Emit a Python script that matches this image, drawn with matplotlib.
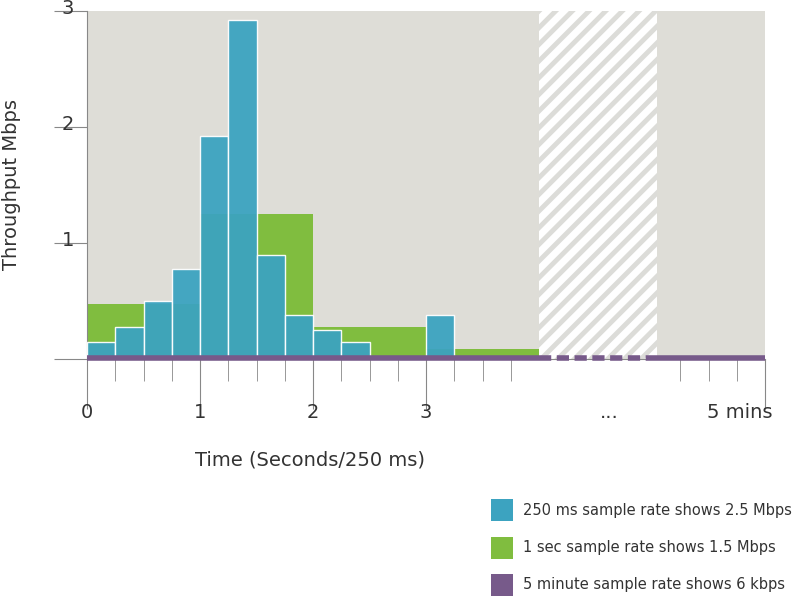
import matplotlib.pyplot as plt
from matplotlib.patches import Rectangle

plt.rcParams["hatch.linewidth"] = 3.5

# 250 ms samples (width 0.25 s)
blue_x = [0, 0.25, 0.5, 0.75, 1.0, 1.25, 1.5, 1.75, 2.0, 2.25, 3.0]
blue_h = [0.15, 0.28, 0.5, 0.78, 1.92, 2.92, 0.9, 0.38, 0.25, 0.15, 0.38]
# 1 sec samples (drawn as half-second steps)
green_x = [0, 0.5, 1.0, 1.5, 2.0, 2.5, 3.0, 3.5]
green_h = [0.47, 0.47, 1.25, 1.25, 0.28, 0.28, 0.09, 0.09]
purple_level = 0.006

blue = "#3ca3c0"
green = "#80bd3f"
purple = "#775a8a"
bg = "#deddd7"

fig = plt.figure(figsize=(8, 5.97), dpi=100)
ax = fig.add_axes([87/800, 1-359/597, 678/800, 348/597])
ax.set_xlim(0, 6)
ax.set_ylim(0, 3)
ax.set_facecolor(bg)

# hatched gap
ax.add_patch(Rectangle((4.0, 0), 1.04, 3, facecolor="white", edgecolor="#dcdcd8",
                       hatch="//", linewidth=0, zorder=1))

ax.bar(green_x, green_h, width=0.5, align="edge", color=green, edgecolor="none", zorder=2)
ax.bar(blue_x, blue_h, width=0.25, align="edge", color=blue, alpha=0.95,
       edgecolor="white", linewidth=1, zorder=3)

# 5 minute sample line
ax.plot([0, 4.0], [purple_level]*2, color=purple, lw=4, zorder=4, clip_on=False, solid_capstyle="butt")
ax.plot([4.0, 5.04], [purple_level]*2, color=purple, lw=4, ls=(0, (2.2, 1)), zorder=4, clip_on=False)
ax.plot([5.04, 6.0], [purple_level]*2, color=purple, lw=4, zorder=4, clip_on=False, solid_capstyle="butt")

for s in ["top", "right"]:
    ax.spines[s].set_visible(False)
ax.spines["left"].set_color("#888888")
ax.spines["bottom"].set_color("#888888")

major = [0, 1, 2, 3, 6]
minor = [0.25, 0.5, 0.75, 1.25, 1.5, 1.75, 2.25, 2.5, 2.75, 3.25, 3.5, 3.75, 5.25, 5.5, 5.75]
ax.set_xticks(major)
ax.set_xticks(minor, minor=True)
ax.set_xticklabels([])
ax.tick_params(axis="x", which="major", length=36, color="#888888")
ax.tick_params(axis="x", which="minor", length=16, color="#888888")

ax.set_yticks([0, 1, 2, 3])
ax.set_yticklabels([])
ax.tick_params(axis="y", length=24, color="#888888")
for v in [1, 2, 3]:
    ax.text(-0.17, v + 0.02, str(v), ha="center", va="center", fontsize=14, color="#333333")

xlabels = ["0", "1", "2", "3", "...", "5 mins"]
xpos = [0, 1, 2, 3, 4.62, 6.07]
aligns = ["center"] * 5 + ["right"]
for p, t, a in zip(xpos, xlabels, aligns):
    ax.text(p, -0.46, t, ha=a, va="center", fontsize=14, color="#333333")

ax.set_ylabel("Throughput Mbps", fontsize=14, color="#333333", labelpad=20)
fig.text(310/800, 1-460/597, "Time (Seconds/250 ms)", ha="center", va="center",
         fontsize=14, color="#333333")

legend = [(blue, "250 ms sample rate shows 2.5 Mbps"),
          (green, "1 sec sample rate shows 1.5 Mbps"),
          (purple, "5 minute sample rate shows 6 kbps")]
for i, (c, t) in enumerate(legend):
    yc = 510 + i * 37.5
    fig.patches.append(Rectangle((491/800, 1-(yc+11)/597), 22/800, 22/597,
                                 facecolor=c, transform=fig.transFigure, figure=fig))
    fig.text(523/800, 1-yc/597, t, ha="left", va="center", fontsize=10.5, color="#333333")

fig.savefig("out.png", dpi=100)
